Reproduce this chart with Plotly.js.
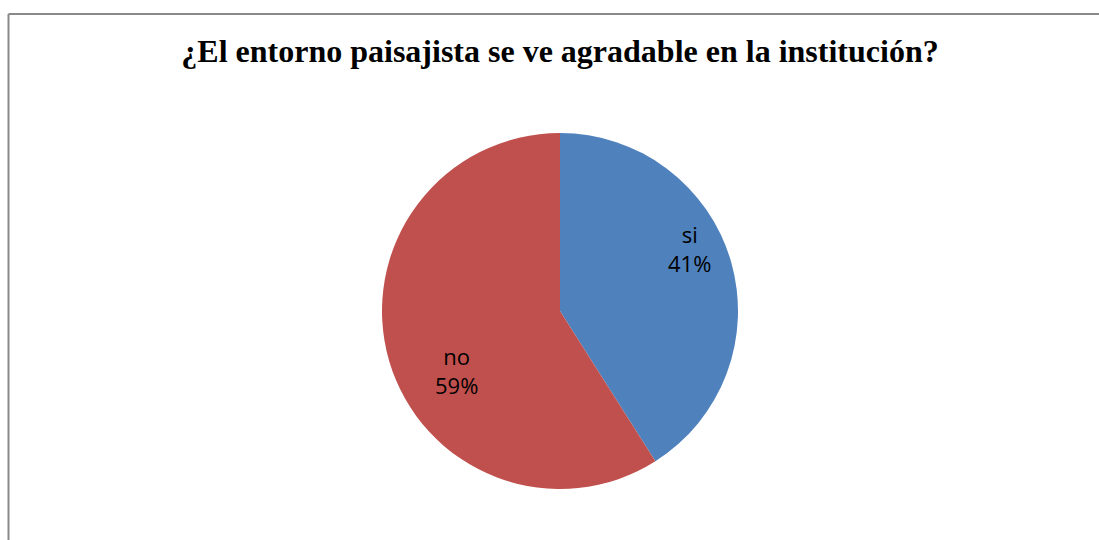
<!DOCTYPE html>
<html><head><meta charset="utf-8">
<script src="https://cdn.plot.ly/plotly-3.0.1.min.js"></script>
<style>html,body{margin:0;padding:0;background:#fff}#chart{width:1099px;height:540px}</style>
</head><body><div id="chart"></div>
<script>
const categories = ["si", "no"];
const values = [41, 59];
const colors = ["#4F81BD", "#C0504D"];
const titleText = "¿El entorno paisajista se ve agradable en la institución?";

const W = 1099, H = 540;
const cx = 560, cy = 311, r = 178;

const total = values.reduce((a, b) => a + b, 0);
const labelText = categories.map((c, i) => c + "<br>" + Math.round(values[i] / total * 100) + "%");

const trace = {
  type: "pie",
  labels: categories,
  values: values,
  marker: {colors: colors, line: {width: 0}},
  sort: false,
  direction: "clockwise",
  rotation: 0,
  textinfo: "none",
  hoverinfo: "label+percent",
  showlegend: false,
  domain: {x: [(cx - r) / W, (cx + r) / W], y: [(H - cy - r) / H, (H - cy + r) / H]}
};

// label anchor points (Excel "best fit" placement), in pixels
const labelAnchors = [[689, 248], [456, 370]];

const layout = {
  width: W, height: H,
  margin: {l: 0, r: 0, t: 0, b: 0},
  paper_bgcolor: "#fff",
  showlegend: false,
  title: {
    text: "<b>" + titleText + "</b>",
    font: {family: "Liberation Serif, Times New Roman, serif", size: 32, color: "#000"},
    x: cx / W, xanchor: "center", xref: "paper",
    y: 1 - 51 / H, yanchor: "middle", yref: "container"
  },
  annotations: labelText.map((t, i) => ({
    text: t, xref: "paper", yref: "paper",
    x: labelAnchors[i][0] / W, y: 1 - labelAnchors[i][1] / H,
    xanchor: "center", yanchor: "middle", showarrow: false,
    font: {family: "Open Sans, sans-serif", size: 22, color: "#000"}
  })),
  shapes: [
    {type: "line", xref: "paper", yref: "paper", x0: 8.5 / W, x1: 1, y0: 1 - 14 / H, y1: 1 - 14 / H, line: {color: "#898989", width: 2}},
    {type: "line", xref: "paper", yref: "paper", x0: 8.5 / W, x1: 8.5 / W, y0: 0, y1: 1 - 14 / H, line: {color: "#898989", width: 2}}
  ]
};

Plotly.newPlot("chart", [trace], layout, {displayModeBar: false, staticPlot: true});
</script></body></html>
